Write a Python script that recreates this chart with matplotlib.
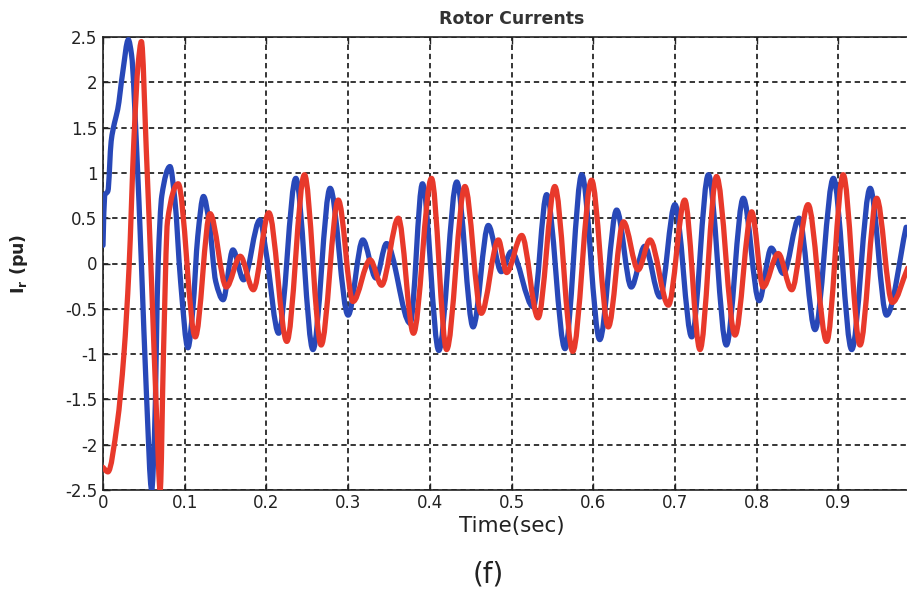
import matplotlib
matplotlib.use("Agg")
import numpy as np
import matplotlib.pyplot as plt
from matplotlib.path import Path
from matplotlib.patches import PathPatch

plt.rcParams['font.family'] = ['DejaVu Sans']
plt.rcParams['axes.unicode_minus'] = False
plt.rcParams['mathtext.fontset'] = 'dejavusans'

# ---- data ----
blue_t = [0.000, 0.002, 0.006, 0.010, 0.014, 0.018, 0.024, 0.031, 0.035, 0.041,
          0.047, 0.053, 0.0596, 0.063, 0.0675, 0.072, 0.082, 0.088, 0.095, 0.104,
          0.110, 0.116, 0.123, 0.130, 0.138, 0.147, 0.159, 0.172, 0.192, 0.200,
          0.215, 0.236, 0.257, 0.278, 0.300, 0.318, 0.334, 0.347, 0.376, 0.391,
          0.411, 0.433, 0.453, 0.4716, 0.4875, 0.4996, 0.5267, 0.543, 0.5655, 0.586,
          0.608, 0.6287, 0.6466, 0.663, 0.6818, 0.700, 0.7206, 0.741, 0.763, 0.7837,
          0.803, 0.818, 0.8327, 0.852, 0.8715, 0.894, 0.9164, 0.939, 0.959, 0.983]
blue_v = [0.20, 0.75, 0.80, 1.35, 1.55, 1.70, 2.10, 2.47, 2.30, 1.30,
          0.00, -1.40, -2.50, -1.90, 0.00, 0.75, 1.07, 0.70, -0.20, -0.93,
          -0.50, 0.30, 0.74, 0.45, -0.20, -0.40, 0.15, -0.18, 0.48, 0.10,
          -0.77, 0.94, -0.95, 0.83, -0.57, 0.26, -0.16, 0.22, -0.66, 0.88,
          -0.96, 0.90, -0.70, 0.42, -0.09, 0.13, -0.48, 0.76, -0.94, 0.98,
          -0.84, 0.59, -0.26, 0.19, -0.37, 0.65, -0.81, 0.98, -0.90, 0.72,
          -0.41, 0.17, -0.11, 0.50, -0.73, 0.94, -0.95, 0.83, -0.57, 0.40]

red_t = [0.000, 0.006, 0.0175, 0.0257, 0.0318, 0.038, 0.043, 0.047, 0.053, 0.0596,
         0.0657, 0.070, 0.074, 0.079, 0.092, 0.113, 0.131, 0.151, 0.168, 0.184,
         0.203, 0.225, 0.2466, 0.267, 0.288, 0.306, 0.327, 0.341, 0.3615, 0.380,
         0.402, 0.4206, 0.443, 0.463, 0.484, 0.494, 0.5125, 0.5325, 0.553, 0.575,
         0.598, 0.6185, 0.637, 0.655, 0.6695, 0.692, 0.712, 0.7307, 0.751, 0.7736,
         0.794, 0.808, 0.8265, 0.843, 0.863, 0.8858, 0.906, 0.9266, 0.947, 0.966, 0.985]
red_v = [-2.25, -2.30, -1.76, -0.99, -0.06, 1.40, 2.20, 2.45, 1.25, -0.25,
         -1.70, -2.50, -1.00, 0.47, 0.88, -0.81, 0.55, -0.26, 0.08, -0.29,
         0.56, -0.86, 0.98, -0.90, 0.70, -0.42, 0.04, -0.24, 0.50, -0.77,
         0.94, -0.95, 0.85, -0.55, 0.26, -0.10, 0.31, -0.60, 0.85, -0.97,
         0.92, -0.70, 0.46, -0.07, 0.26, -0.46, 0.70, -0.95, 0.96, -0.79,
         0.57, -0.26, 0.11, -0.29, 0.65, -0.86, 0.98, -0.90, 0.72, -0.43, -0.05]

x_ticks = [0, 0.1, 0.2, 0.3, 0.4, 0.5, 0.6, 0.7, 0.8, 0.9, 1.0]
x_tick_labels = ["0", "0.1", "0.2", "0.3", "0.4", "0.5", "0.6", "0.7", "0.8", "0.9", ""]
y_ticks = [-2.5, -2, -1.5, -1, -0.5, 0, 0.5, 1, 1.5, 2, 2.5]
y_tick_labels = ["-2.5", "-2", "-1.5", "-1", "-0.5", "0", "0.5", "1", "1.5", "2", "2.5"]


def pchip_slopes(t, v):
    t = np.asarray(t, float)
    v = np.asarray(v, float)
    h = np.diff(t)
    d = np.diff(v) / h
    m = np.zeros(len(t))
    for i in range(1, len(t) - 1):
        if d[i - 1] * d[i] > 0:
            w1 = 2 * h[i] + h[i - 1]
            w2 = h[i] + 2 * h[i - 1]
            m[i] = (w1 + w2) / (w1 / d[i - 1] + w2 / d[i])
    m[0] = d[0]
    m[-1] = d[-1]
    return m


def smooth_trace(ax, t, v, **kw):
    """Draw a smooth (monotone cubic Bezier) line through the read points."""
    m = pchip_slopes(t, v)
    verts = [(t[0], v[0])]
    codes = [Path.MOVETO]
    for i in range(len(t) - 1):
        h = t[i + 1] - t[i]
        verts += [(t[i] + h / 3, v[i] + m[i] * h / 3),
                  (t[i + 1] - h / 3, v[i + 1] - m[i + 1] * h / 3),
                  (t[i + 1], v[i + 1])]
        codes += [Path.CURVE4] * 3
    patch = PathPatch(Path(verts, codes), fill=False, transform=ax.transData,
                      joinstyle='round', capstyle='round', **kw)
    ax.add_patch(patch)
    return patch


W, H = 907, 595
fig = plt.figure(figsize=(W / 100, H / 100), dpi=100)
fig.patch.set_facecolor('white')
left, right, top, bottom = 103, 920, 37, 490
ax = fig.add_axes([left / W, 1 - bottom / H, (right - left) / W, (bottom - top) / H])

smooth_trace(ax, blue_t, blue_v, edgecolor='#2848B8', lw=3.8, zorder=3)
smooth_trace(ax, red_t, red_v, edgecolor='#E8392B', lw=3.8, zorder=4)

ax.set_xlim(0, 1.0)
ax.set_ylim(-2.5, 2.5)
ax.set_xticks(x_ticks)
ax.set_xticklabels(x_tick_labels)
ax.set_yticks(y_ticks)
ax.set_yticklabels(y_tick_labels)
ax.tick_params(direction='in', length=5, width=1, labelsize=12, colors='#222222',
               top=True, right=True, pad=4)
ax.tick_params(axis='x', pad=3)
ax.grid(True, color='black', linestyle=(0, (3.5, 2.5)), linewidth=1.1, zorder=1)
for s in ax.spines.values():
    s.set_linewidth(1.2)
    s.set_color('#222222')

ax.set_title("Rotor Currents", fontsize=12.5, fontweight='bold', color='#333333', pad=9)
ax.set_xlabel("Time(sec)", fontsize=15.5, color='#222222', labelpad=3)
fig.text(19 / W, 1 - 264 / H, r"I$_{\mathbf{r}}$ (pu)", rotation=90, ha='center', va='center',
         fontsize=12.5, fontweight='bold', color='#222222')
fig.text(488 / W, 1 - 575 / H, "(f)", ha='center', va='center', fontsize=20, color='#222222')

fig.savefig("out.png", dpi=100)
